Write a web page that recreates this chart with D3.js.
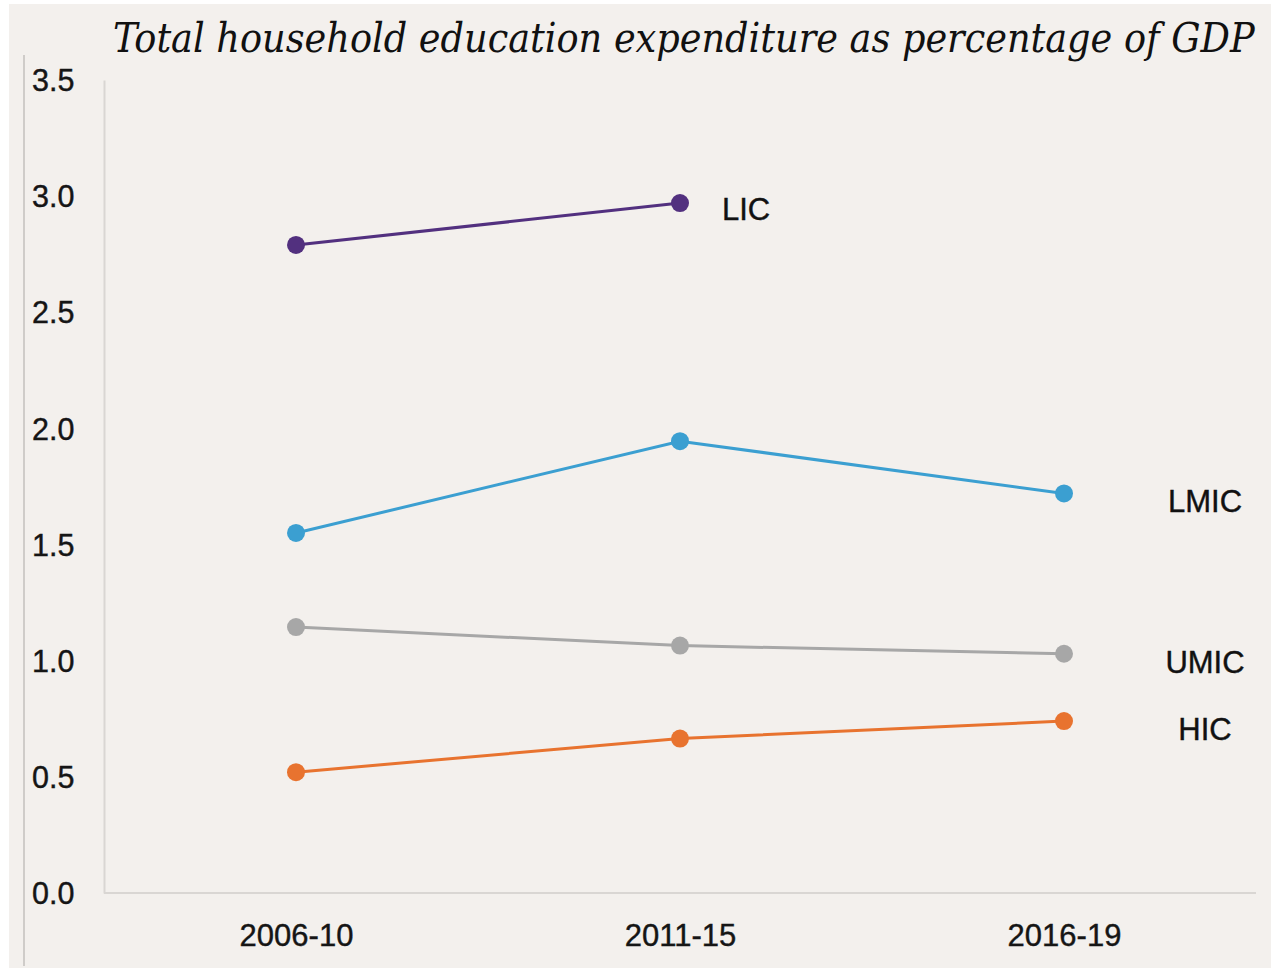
<!DOCTYPE html>
<html>
<head>
<meta charset="utf-8">
<script src="https://cdn.jsdelivr.net/npm/d3@7"></script>
<style>
  html, body { margin: 0; padding: 0; background: #ffffff; }
  svg { display: block; }
</style>
</head>
<body>
<svg id="chart" width="1271" height="979"></svg>
<script>
// Periods on the x axis
const periods = ["2006-10", "2011-15", "2016-19"];
// Household education expenditure, % of GDP, by income group
const lic  = [2.79, 2.97, null];
const lmic = [1.55, 1.945, 1.72];
const umic = [1.145, 1.065, 1.03];
const hic  = [0.52, 0.665, 0.74];
const yTicks = [0, 0.5, 1.0, 1.5, 2.0, 2.5, 3.0, 3.5];
const seriesNames = ["LIC", "LMIC", "UMIC", "HIC"];
const seriesColors = ["#52307f", "#3b9fd1", "#a7a7a7", "#e8732f"];
const titleText = "Total household education expenditure as percentage of GDP";

const series = [lic, lmic, umic, hic].map((vals, i) => ({
  name: seriesNames[i],
  color: seriesColors[i],
  points: vals.map((v, j) => ({ period: periods[j], value: v })).filter(d => d.value !== null)
}));

const svg = d3.select("#chart");

// Panel background
svg.append("rect")
  .attr("x", 9).attr("y", 4)
  .attr("width", 1262).attr("height", 964)
  .attr("fill", "#f3f0ed");

// Thin frame line on the left edge
svg.append("line")
  .attr("x1", 24).attr("x2", 24)
  .attr("y1", 55).attr("y2", 966)
  .attr("stroke", "#cfccc9").attr("stroke-width", 2);

const plotLeft = 104, plotRight = 1256, plotTop = 80, plotBottom = 893;

const x = d3.scalePoint().domain(periods).range([plotLeft, plotRight]).padding(0.5);
const y = d3.scaleLinear().domain([0, 3.5]).range([plotBottom, plotTop]);

const sansFont = "'Liberation Sans', Arial, sans-serif";

// Y axis
const yAxis = svg.append("g")
  .attr("transform", `translate(${plotLeft},0)`)
  .call(d3.axisLeft(y).tickValues(yTicks).tickFormat(d3.format(".1f")).tickSize(0));
yAxis.select(".domain").attr("stroke", "#d9d6d3").attr("stroke-width", 2);
yAxis.selectAll("text")
  .attr("x", 32 - plotLeft)
  .attr("text-anchor", "start")
  .attr("dy", "0.35em")
  .attr("fill", "#151515")
  .attr("stroke", "#151515").attr("stroke-width", 0.4)
  .style("font-family", sansFont)
  .style("font-size", "30.5px");

// X axis
const xAxis = svg.append("g")
  .attr("transform", `translate(0,${plotBottom})`)
  .call(d3.axisBottom(x).tickSize(0).tickSizeOuter(0));
xAxis.select(".domain").attr("stroke", "#d9d6d3").attr("stroke-width", 2)
  .attr("d", `M${plotLeft},0H${plotRight}`);
xAxis.selectAll("text")
  .attr("y", 42)
  .attr("dy", "0.35em")
  .attr("fill", "#151515")
  .attr("stroke", "#151515").attr("stroke-width", 0.4)
  .style("font-family", sansFont)
  .style("font-size", "31px");

// Lines and markers
const line = d3.line().x(d => x(d.period)).y(d => y(d.value));
const g = svg.append("g");
series.forEach(s => {
  g.append("path")
    .datum(s.points)
    .attr("d", line)
    .attr("fill", "none")
    .attr("stroke", s.color)
    .attr("stroke-width", 3);
  g.selectAll(null)
    .data(s.points)
    .enter().append("circle")
    .attr("cx", d => x(d.period))
    .attr("cy", d => y(d.value))
    .attr("r", 9)
    .attr("fill", s.color);
});

// Series labels next to the last point of each line
series.forEach(s => {
  const last = s.points[s.points.length - 1];
  const isShort = s.points.length < periods.length;
  svg.append("text")
    .attr("x", isShort ? x(last.period) + 42 : 1205)
    .attr("y", y(last.value) + (isShort ? 6 : 8))
    .attr("dy", "0.35em")
    .attr("text-anchor", isShort ? "start" : "middle")
    .attr("fill", "#111")
    .attr("stroke", "#111").attr("stroke-width", 0.4)
    .style("font-family", sansFont)
    .style("font-size", "31px")
    .text(s.name);
});

// Title, fitted to the plot width
const title = svg.append("text")
  .attr("x", 113).attr("y", 52)
  .attr("fill", "#111")
  .style("font-family", "'DejaVu Serif Condensed', 'DejaVu Serif', 'Liberation Serif', serif")
  .style("font-stretch", "condensed")
  .style("font-style", "italic")
  .style("font-size", "40px")
  .text(titleText);
const tw = title.node().getComputedTextLength();
const targetW = 1142;
title.style("font-size", (40 * targetW / tw).toFixed(2) + "px");
</script>
</body>
</html>
